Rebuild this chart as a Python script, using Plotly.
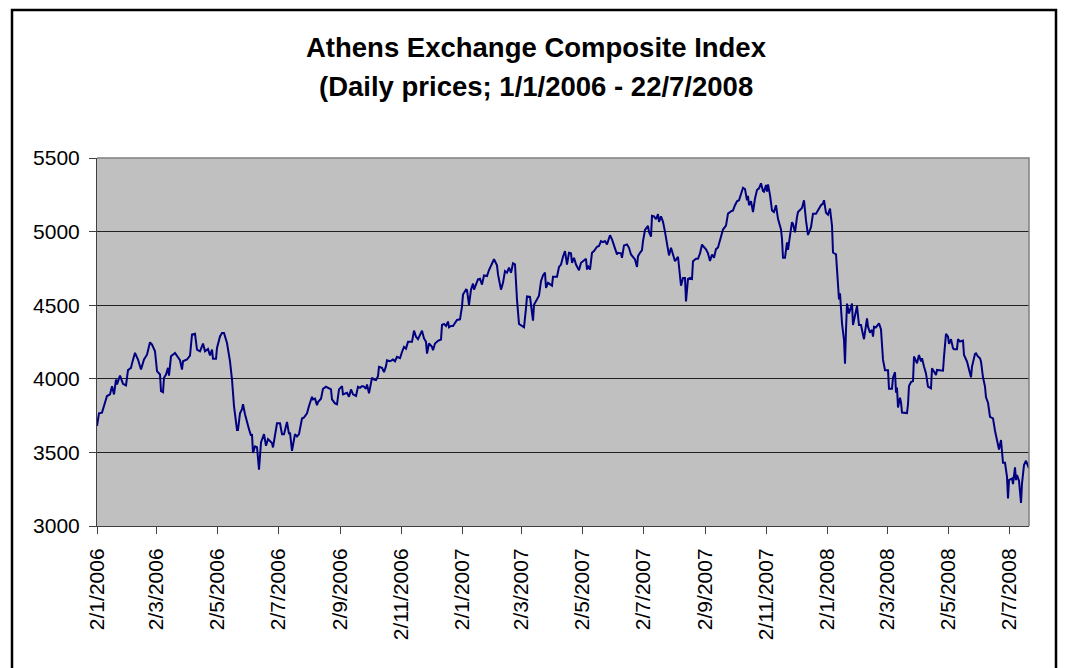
import pandas as pd
import plotly.graph_objects as go

# ---------------- data ----------------
START_DATE = "2006-01-02"   # first trading day shown
# calendar days since START_DATE for each sampled daily close
day_offsets = [
    0, 2, 5, 10, 13, 15, 17, 19, 20, 23, 26, 29, 31, 34, 35, 38, 41, 44, 47, 50,
    53, 55, 58, 60, 63, 64, 66, 67, 69, 71, 72, 74, 78, 81, 83, 85, 86, 90, 93, 95,
    98, 100, 103, 106, 108, 111, 113, 115, 116, 119, 120, 123, 125, 127, 130, 133, 135, 137, 140, 141,
    143, 145, 146, 148, 150, 152, 154, 155, 156, 158, 160, 162, 164, 167, 169, 171, 175, 176, 180, 183,
    185, 187, 190, 192, 193, 195, 198, 200, 202, 205, 207, 210, 212, 215, 216, 218, 220, 221, 224, 226,
    229, 231, 234, 235, 238, 240, 242, 245, 246, 250, 252, 254, 256, 259, 261, 263, 265, 267, 269, 270,
    272, 275, 277, 279, 281, 282, 285, 287, 289, 290, 293, 296, 298, 300, 303, 305, 307, 309, 311, 315,
    317, 319, 321, 325, 327, 329, 330, 332, 335, 336, 338, 341, 344, 345, 347, 349, 351, 352, 354, 356,
    359, 360, 363, 365, 366, 369, 370, 372, 374, 376, 377, 379, 381, 383, 385, 387, 390, 392, 394, 397,
    400, 401, 404, 406, 408, 410, 412, 414, 416, 418, 420, 422, 425, 427, 429, 430, 433, 435, 436, 437,
    440, 442, 444, 446, 448, 449, 451, 453, 455, 456, 460, 462, 464, 466, 468, 470, 472, 474, 475, 477,
    479, 482, 484, 486, 489, 490, 491, 493, 495, 497, 500, 502, 504, 506, 508, 510, 511, 513, 515, 518,
    520, 521, 524, 525, 527, 530, 532, 534, 536, 538, 540, 541, 543, 545, 546, 548, 551, 552, 554, 555,
    557, 559, 561, 562, 564, 566, 568, 570, 572, 574, 576, 578, 581, 582, 584, 586, 588, 589, 591, 593,
    595, 596, 599, 601, 603, 605, 606, 609, 611, 613, 615, 617, 619, 621, 624, 626, 629, 631, 634, 636,
    638, 640, 642, 644, 646, 648, 650, 651, 652, 654, 656, 658, 660, 662, 664, 666, 667, 669, 670, 671,
    673, 675, 677, 679, 681, 684, 685, 686, 688, 690, 691, 693, 695, 696, 698, 700, 701, 705, 707, 709,
    711, 714, 716, 719, 721, 724, 726, 727, 729, 731, 733, 735, 736, 739, 740, 741, 742, 743, 745, 747,
    748, 749, 750, 752, 754, 755, 756, 758, 760, 762, 764, 765, 767, 770, 771, 773, 775, 776, 777, 779,
    781, 782, 784, 785, 786, 788, 791, 792, 795, 796, 798, 799, 800, 801, 803, 804, 805, 810, 811, 812,
    814, 816, 817, 820, 822, 824, 825, 827, 829, 831, 834, 835, 837, 839, 840, 846, 847, 849, 851, 852,
    854, 856, 857, 860, 861, 863, 866, 867, 870, 872, 874, 875, 878, 879, 881, 883, 884, 886, 888, 889,
    891, 893, 896, 898, 900, 902, 904, 905, 906, 908, 910, 911, 912, 915, 916, 918, 919, 920, 922, 924,
    925, 927, 929, 932,
]
index_values = [
    3680, 3766, 3770, 3883, 3894, 3950, 3894, 3995, 3962, 4022, 3966, 3955, 4059, 4074, 4104, 4176, 4131, 4063, 4131, 4164,
    4248, 4232, 4187, 4052, 4029, 3917, 3910, 4007, 4029, 4074, 4022, 4153, 4176, 4142, 4126, 4063, 4119, 4131, 4158, 4300,
    4306, 4198, 4187, 4239, 4187, 4203, 4158, 4198, 4137, 4137, 4210, 4288, 4311, 4311, 4243, 4119, 3995, 3815, 3653, 3653,
    3766, 3793, 3827, 3759, 3703, 3658, 3613, 3624, 3496, 3541, 3536, 3383, 3568, 3624, 3545, 3590, 3563, 3534, 3698, 3698,
    3624, 3624, 3707, 3624, 3635, 3511, 3624, 3608, 3624, 3730, 3737, 3766, 3815, 3878, 3860, 3865, 3820, 3842, 3865, 3932,
    3946, 3939, 3928, 3860, 3833, 3827, 3928, 3950, 3894, 3905, 3878, 3928, 3894, 3883, 3946, 3939, 3950, 3946, 3932, 3962,
    3901, 4007, 3995, 3991, 4018, 4081, 4074, 4045, 4086, 4126, 4119, 4131, 4119, 4149, 4140, 4182, 4217, 4205, 4251, 4251,
    4327, 4286, 4270, 4327, 4274, 4251, 4171, 4240, 4217, 4194, 4240, 4258, 4267, 4366, 4373, 4359, 4389, 4350, 4359, 4359,
    4389, 4400, 4404, 4492, 4572, 4606, 4602, 4503, 4606, 4647, 4606, 4640, 4675, 4679, 4640, 4702, 4698, 4739, 4766, 4812,
    4771, 4709, 4606, 4652, 4732, 4721, 4755, 4721, 4785, 4778, 4537, 4373, 4359, 4350, 4480, 4560, 4556, 4446, 4395, 4503,
    4537, 4565, 4663, 4702, 4721, 4618, 4652, 4640, 4633, 4693, 4693, 4760, 4776, 4829, 4868, 4776, 4856, 4852, 4788, 4822,
    4776, 4737, 4788, 4799, 4815, 4742, 4769, 4742, 4856, 4868, 4897, 4902, 4936, 4929, 4936, 4913, 4936, 4975, 4947, 4890,
    4845, 4856, 4852, 4822, 4906, 4913, 4890, 4845, 4829, 4811, 4760, 4833, 4856, 4874, 4936, 5011, 5039, 4998, 4966, 5107,
    5103, 5084, 5119, 5066, 5103, 5066, 4998, 4913, 4838, 4890, 4852, 4799, 4829, 4760, 4632, 4685, 4685, 4525, 4678, 4685,
    4678, 4799, 4815, 4815, 4852, 4913, 4902, 4879, 4852, 4800, 4845, 4823, 4881, 4892, 4972, 5014, 5041, 5122, 5138, 5144,
    5179, 5206, 5213, 5252, 5298, 5289, 5213, 5243, 5179, 5206, 5133, 5225, 5282, 5294, 5328, 5275, 5271, 5317, 5271, 5321,
    5248, 5144, 5133, 5179, 5087, 5014, 4950, 4823, 4823, 4927, 4876, 4972, 5064, 5053, 4995, 5099, 5133, 5161, 5213, 5076,
    4977, 5030, 5122, 5122, 5144, 5179, 5190, 5213, 5128, 5115, 5156, 5041, 4858, 4846, 4743, 4583, 4540, 4580, 4377, 4265,
    4103, 4332, 4511, 4444, 4500, 4511, 4365, 4422, 4493, 4365, 4365, 4332, 4269, 4410, 4354, 4314, 4332, 4287, 4354, 4350,
    4372, 4377, 4336, 4197, 4130, 4058, 4058, 3933, 3933, 4007, 4045, 3906, 3940, 3805, 3872, 3839, 3771, 3767, 3827, 3951,
    3978, 3984, 4152, 4105, 4162, 4117, 4139, 4083, 4037, 3947, 3935, 4071, 4049, 4026, 4060, 4055, 4151, 4305, 4287, 4237,
    4269, 4207, 4201, 4201, 4269, 4253, 4260, 4162, 4117, 4060, 4010, 4083, 4169, 4173, 4151, 4139, 4117, 4010, 3947, 3874,
    3838, 3742, 3731, 3647, 3579, 3520, 3584, 3482, 3429, 3429, 3334, 3187, 3312, 3323, 3284, 3398, 3312, 3346, 3307, 3157,
    3289, 3414, 3443, 3391,
]
tick_labels = [
    "2/1/2006", "2/3/2006", "2/5/2006", "2/7/2006", "2/9/2006", "2/11/2006",
    "2/1/2007", "2/3/2007", "2/5/2007", "2/7/2007", "2/9/2007", "2/11/2007",
    "2/1/2008", "2/3/2008", "2/5/2008", "2/7/2008",
]
y_ticks = [3000, 3500, 4000, 4500, 5000, 5500]
title_lines = ["Athens Exchange Composite Index", "(Daily prices; 1/1/2006 - 22/7/2008"]

# ---------------- build ----------------
dates = pd.to_datetime(START_DATE) + pd.to_timedelta(day_offsets, unit="D")
tick_dates = pd.to_datetime(tick_labels, format="%d/%m/%Y")

FONT = "Liberation Sans, Arial, sans-serif"
W, H = 1066, 668
OFF = 8                      # page body margin of the browser
PX0, PX1, PY0, PY1 = 97, 1029, 158, 526   # plot area on screen
pw, ph = PX1 - PX0, PY1 - PY0
L, T = PX0 - OFF, PY0 - OFF
R, B = W - L - pw, H - T - ph


def px(x):
    return (x - PX0) / pw


def py(y):
    return (PY1 - y) / ph


fig = go.Figure()
fig.add_trace(go.Scatter(
    x=dates, y=index_values, mode="lines",
    line=dict(color="#000080", width=2),
    hoverinfo="x+y", showlegend=False,
))

# chart outer border
fig.add_shape(type="rect", xref="paper", yref="paper",
              x0=px(12), x1=px(1056), y0=py(700), y1=py(10),
              line=dict(color="black", width=2.5), layer="above")
# plot-area frame (top and right) in grey
fig.add_shape(type="path", xref="paper", yref="paper",
              path="M 0 1 L 1 1 L 1 0",
              line=dict(color="#808080", width=1.5), layer="above")

for text, yc in zip(title_lines, [47, 86]):
    fig.add_annotation(
        text="<b>" + text + "</b>", xref="paper", yref="paper",
        x=px(536), y=py(yc), xanchor="center", yanchor="middle",
        showarrow=False,
        font=dict(family=FONT, size=27.5, color="black"),
    )

fig.update_layout(
    width=W, height=H,
    margin=dict(l=L, r=R, t=T, b=B),
    paper_bgcolor="white",
    plot_bgcolor="#C0C0C0",
    font=dict(family=FONT, color="black"),
)
fig.update_xaxes(
    type="date",
    range=[dates[0], dates[-1]],
    tickvals=tick_dates, ticktext=tick_labels,
    tickangle=-90,
    ticks="outside", ticklen=7, tickcolor="#404040", tickwidth=1,
    ticklabelstandoff=6,
    showgrid=False, zeroline=False,
    showline=True, linecolor="#404040", linewidth=1,
    tickfont=dict(family=FONT, size=21, color="black"),
)
fig.update_yaxes(
    range=[3000, 5500],
    tickvals=y_ticks,
    ticks="outside", ticklen=7, tickcolor="#404040", tickwidth=1,
    ticklabelstandoff=5,
    showgrid=True, gridcolor="#202020", gridwidth=1,
    zeroline=False,
    showline=True, linecolor="#404040", linewidth=1,
    tickfont=dict(family=FONT, size=21, color="black"),
)

fig.write_html("out.html")
